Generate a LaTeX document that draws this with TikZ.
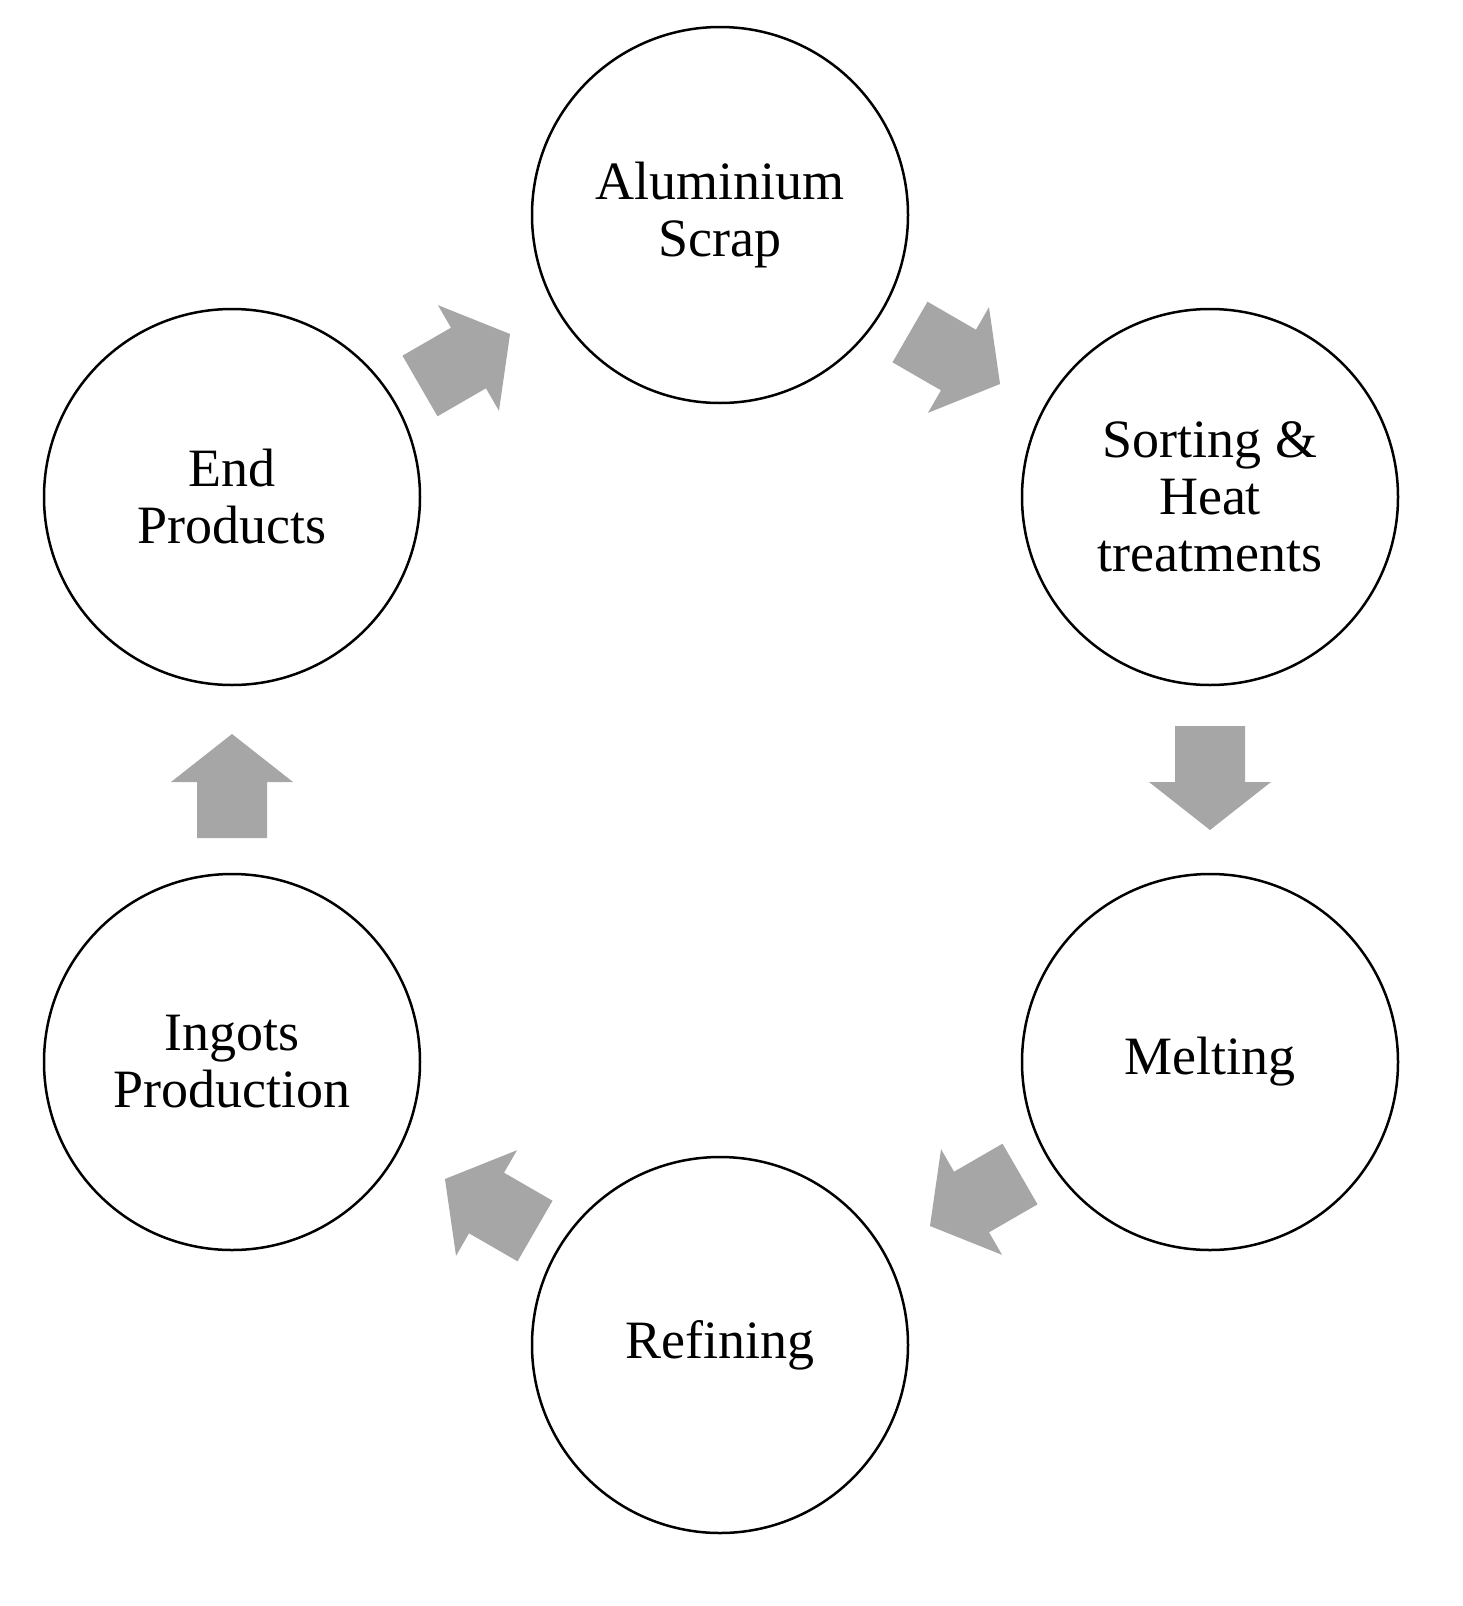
\documentclass[tikz,border=0pt]{standalone}
\usepackage{fontspec}
\setmainfont{Liberation Serif}
\begin{document}
\begin{tikzpicture}[x=1pt,y=-1pt,
  stage/.style={circle,draw=black,line width=2.5pt,minimum size=376pt,inner sep=0pt,align=center,font=\fontsize{54}{57}\selectfont},
  blk/.pic={\fill[black!35] (-52,-35) -- (4,-35) -- (4,-61) -- (52,0) -- (4,61) -- (4,35) -- (-52,35) -- cycle;}]
\useasboundingbox (0,0) rectangle (1462,1606);
\node[stage] (scrap) at (720,215) {Aluminium\\Scrap};
\node[stage] (sort) at (1210,497) {Sorting \&\\Heat\\treatments};
\node[stage] (melt) at (1210,1062) {Melting};
\node[stage] (ref) at (720,1345) {Refining};
\node[stage] (ing) at (232,1062) {Ingots\\Production};
\node[stage] (end) at (232,497) {End\\Products};
\pic[rotate=-30] at (955,358) {blk};
\pic[rotate=-90] at (1210,778) {blk};
\pic[rotate=210] at (975,1200) {blk};
\pic[rotate=150] at (490,1205) {blk};
\pic[rotate=90] at (232,786) {blk};
\pic[rotate=30] at (465,360) {blk};
\end{tikzpicture}
\end{document}
